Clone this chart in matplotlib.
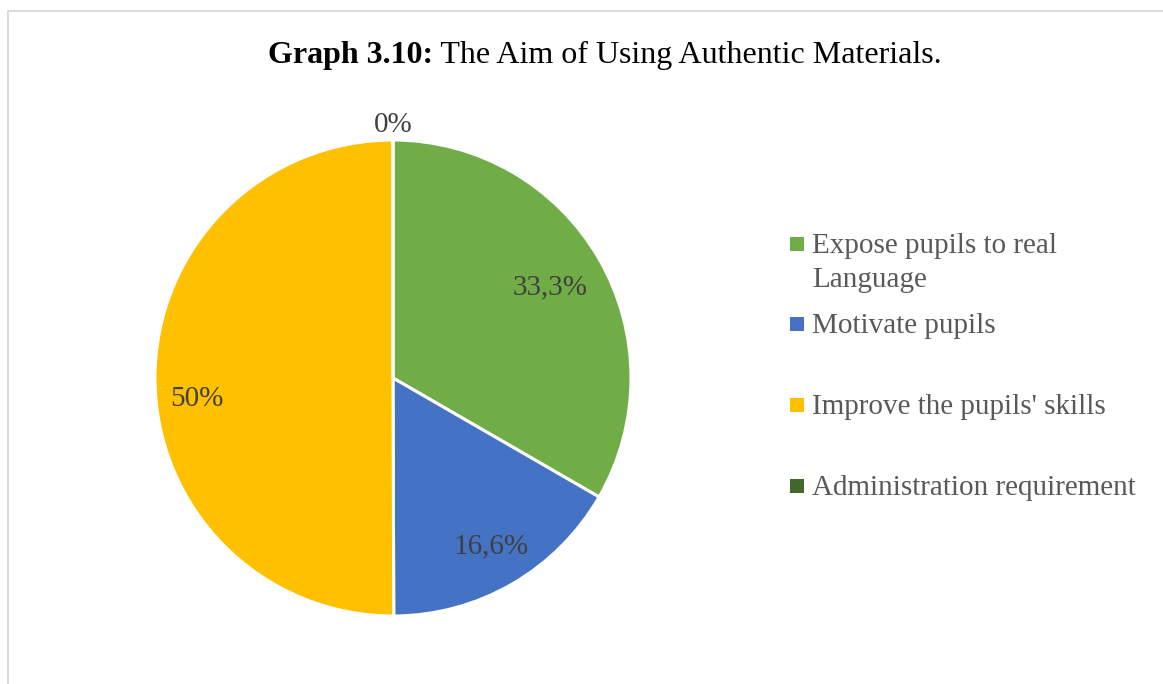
import numpy as np
import matplotlib
matplotlib.use("Agg")
import matplotlib.pyplot as plt
from matplotlib.patches import Rectangle

plt.rcParams['font.family'] = ['Liberation Serif', 'DejaVu Serif']

categories = ["Expose pupils to real\nLanguage", "Motivate pupils",
              "Improve the pupils' skills", "Administration requirement"]
values = [33.3, 16.6, 50.0, 0.0]
value_labels = ["33,3%", "16,6%", "50%", "0%"]
colors = ["#70AD47", "#4472C4", "#FFC000", "#43682B"]

W, H = 1163, 684
fig = plt.figure(figsize=(W / 100, H / 100), dpi=100)

# chart frame
fig.patches.append(Rectangle((8 / W, -0.05), 1.1, (H - 11) / H + 0.05,
                             transform=fig.transFigure, fill=False,
                             edgecolor="#D9D9D9", linewidth=1.3))

cx, cy, r = 393, 378, 238
ax = fig.add_axes([(cx - r) / W, (H - cy - r) / H, 2 * r / W, 2 * r / H])
wedges, _ = ax.pie(values, colors=colors, startangle=90, counterclock=False,
                   radius=1.0, wedgeprops=dict(edgecolor="white", linewidth=2.2))
ax.set_xlim(-1, 1)
ax.set_ylim(-1, 1)
ax.set_aspect("equal")
ax.axis("off")

# data labels placed along each wedge's bisector
label_radius = [0.76, 0.82, 0.83, 1.065]
label_shift = [0, 0, 6, 0]
for w, txt, lr, sh in zip(wedges, value_labels, label_radius, label_shift):
    mid = np.deg2rad((w.theta1 + w.theta2) / 2 + sh)
    ax.text(lr * np.cos(mid), lr * np.sin(mid), txt, ha="center", va="center",
            fontsize=21, color="#404040", clip_on=False)

# legend
leg_x = 790 / W
leg_y = [244, 324, 405, 486]
sq = 14
for lab, col, yy in zip(categories, colors, leg_y):
    fig.patches.append(Rectangle((leg_x, (H - yy - sq / 2) / H), sq / W, sq / H,
                                 transform=fig.transFigure, facecolor=col,
                                 edgecolor="none"))
    fig.text(812 / W, (H - yy + 11) / H, lab, ha="left", va="top",
             fontsize=21, color="#595959", linespacing=1.38)

# title: bold prefix followed by regular text, centred as one line
renderer = fig.canvas.get_renderer()
ty = (H - 55) / H
t1 = fig.text(0, ty, "Graph 3.10:", fontsize=23, fontweight="bold",
              color="black", va="center", ha="left")
t2 = fig.text(0, ty, " The Aim of Using Authentic Materials.", fontsize=23,
              color="black", va="center", ha="left")
w1 = t1.get_window_extent(renderer).width
w2 = t2.get_window_extent(renderer).width
start = 605 - (w1 + w2) / 2
t1.set_x(start / W)
t2.set_x((start + w1) / W)

fig.savefig("out.png", dpi=100)
